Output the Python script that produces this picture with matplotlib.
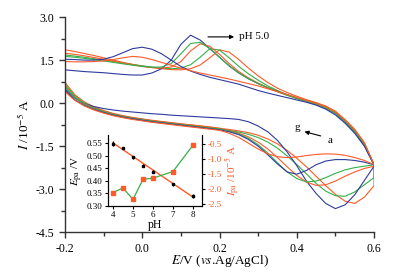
import matplotlib
matplotlib.use("Agg")
import matplotlib.pyplot as plt

plt.rcParams['font.family'] = 'serif'
plt.rcParams['font.serif'] = ['Liberation Serif', 'DejaVu Serif']
plt.rcParams['mathtext.fontset'] = 'stix'
plt.rcParams['axes.unicode_minus'] = False

# =============================================================================
# Daten
# =============================================================================

potential = [-0.2, -0.175, -0.15, -0.125, -0.1, -0.075, -0.05, -0.025, 0.0,
             0.025, 0.05, 0.075, 0.1, 0.125, 0.15, 0.175, 0.2, 0.225, 0.25,
             0.275, 0.3, 0.325, 0.35, 0.375, 0.4, 0.425, 0.45, 0.475, 0.5,
             0.525, 0.55, 0.575, 0.6]

# Hinlauf (untere Zweige), Strom in 10^-5 A
lower_a = [0.72, 0.30, 0.04, -0.13, -0.26, -0.36, -0.44, -0.50, -0.55, -0.60, -0.64,
           -0.68, -0.72, -0.76, -0.79, -0.83, -0.88, -0.92, -0.97, -1.03, -1.12, -1.25,
           -1.42, -1.65, -1.92, -2.22, -2.55, -2.88, -3.18, -3.42, -3.50, -3.28, -2.88]
lower_b = [0.66, 0.26, 0.01, -0.15, -0.28, -0.38, -0.46, -0.52, -0.57, -0.62, -0.66,
           -0.70, -0.74, -0.78, -0.82, -0.86, -0.90, -0.95, -1.01, -1.09, -1.20, -1.36,
           -1.57, -1.84, -2.14, -2.47, -2.80, -3.07, -3.23, -3.25, -3.10, -2.85, -2.60]
lower_c = [0.50, 0.18, -0.02, -0.12, -0.19, -0.24, -0.28, -0.31, -0.34, -0.37, -0.39,
           -0.42, -0.44, -0.46, -0.48, -0.50, -0.52, -0.54, -0.57, -0.65, -0.80, -1.00,
           -1.30, -1.70, -2.18, -2.72, -3.15, -3.50, -3.68, -3.55, -3.20, -2.70, -2.20]
lower_d = [0.60, 0.22, -0.02, -0.17, -0.29, -0.38, -0.45, -0.51, -0.56, -0.61, -0.65,
           -0.69, -0.73, -0.76, -0.80, -0.84, -0.88, -0.95, -1.05, -1.18, -1.36, -1.60,
           -1.90, -2.22, -2.52, -2.75, -2.87, -2.85, -2.72, -2.55, -2.40, -2.28, -2.20]
lower_e = [0.56, 0.20, -0.04, -0.19, -0.31, -0.40, -0.47, -0.53, -0.58, -0.63, -0.67,
           -0.71, -0.75, -0.79, -0.83, -0.87, -0.90, -0.97, -1.08, -1.23, -1.45, -1.74,
           -2.08, -2.40, -2.63, -2.75, -2.72, -2.60, -2.45, -2.33, -2.25, -2.20, -2.15]
lower_f = [0.45, 0.12, -0.08, -0.22, -0.33, -0.42, -0.49, -0.55, -0.60, -0.65, -0.69,
           -0.73, -0.77, -0.81, -0.85, -0.89, -0.93, -1.00, -1.10, -1.27, -1.50, -1.80,
           -2.12, -2.40, -2.48, -2.35, -2.15, -2.02, -1.97, -1.97, -2.00, -2.06, -2.15]
lower_g = [0.40, 0.10, -0.10, -0.24, -0.35, -0.44, -0.51, -0.57, -0.62, -0.67, -0.71,
           -0.75, -0.79, -0.83, -0.87, -0.91, -0.95, -1.05, -1.20, -1.40, -1.60, -1.77,
           -1.87, -1.90, -1.88, -1.83, -1.79, -1.77, -1.78, -1.82, -1.90, -2.00, -2.15]

# Ruecklauf (obere Zweige), gleiche Potentialreihenfolge
upper_a = [1.86, 1.80, 1.73, 1.66, 1.58, 1.50, 1.42, 1.35, 1.29, 1.24, 1.20, 1.17,
           1.16, 1.20, 1.33, 1.58, 1.86, 1.78, 1.52, 1.22, 0.95, 0.72, 0.52, 0.37,
           0.24, 0.12, 0.02, -0.10, -0.28, -0.58, -0.92, -1.38, -2.15]
upper_b = [1.68, 1.64, 1.60, 1.55, 1.50, 1.45, 1.40, 1.35, 1.30, 1.26, 1.22, 1.20,
           1.22, 1.34, 1.60, 1.90, 1.85, 1.58, 1.28, 1.02, 0.80, 0.60, 0.44, 0.30,
           0.18, 0.08, -0.02, -0.14, -0.32, -0.62, -0.97, -1.42, -2.15]
upper_c = [1.16, 1.13, 1.10, 1.08, 1.06, 1.03, 1.00, 0.98, 0.98, 1.05, 1.20, 1.50,
           2.05, 2.37, 2.20, 1.90, 1.60, 1.30, 1.05, 0.85, 0.68, 0.54, 0.41, 0.29,
           0.17, 0.07, -0.04, -0.17, -0.36, -0.66, -1.02, -1.48, -2.15]
upper_d = [1.74, 1.70, 1.65, 1.59, 1.53, 1.47, 1.40, 1.34, 1.28, 1.24, 1.22, 1.26,
           1.45, 1.82, 2.07, 1.98, 1.70, 1.38, 1.10, 0.88, 0.70, 0.54, 0.40, 0.28,
           0.17, 0.07, -0.03, -0.15, -0.33, -0.62, -0.97, -1.42, -2.15]
upper_e = [1.63, 1.60, 1.56, 1.52, 1.47, 1.42, 1.37, 1.32, 1.28, 1.25, 1.26, 1.38,
           1.72, 2.08, 2.12, 1.90, 1.60, 1.30, 1.05, 0.85, 0.68, 0.53, 0.40, 0.27,
           0.16, 0.06, -0.04, -0.17, -0.36, -0.65, -1.00, -1.45, -2.15]
upper_f = [1.53, 1.52, 1.50, 1.50, 1.53, 1.62, 1.76, 1.90, 1.95, 1.88, 1.72, 1.50,
           1.28, 1.12, 1.00, 0.90, 0.82, 0.74, 0.66, 0.55, 0.44, 0.35, 0.27, 0.19,
           0.11, 0.03, -0.07, -0.21, -0.41, -0.70, -1.05, -1.50, -2.15]
upper_g = [1.45, 1.44, 1.44, 1.45, 1.47, 1.52, 1.58, 1.63, 1.60, 1.52, 1.42, 1.32,
           1.22, 1.13, 1.05, 0.98, 0.91, 0.84, 0.76, 0.68, 0.60, 0.50, 0.40, 0.30,
           0.20, 0.10, 0.00, -0.12, -0.30, -0.58, -0.92, -1.38, -2.15]

curve_colors = ['#ff5a28', '#34b04a', '#2e3a9e', '#ff5a28', '#34b04a', '#2e3a9e', '#ff5a28']

# Inset: Peakpotential und Peakstrom gegen pH
ph = [4, 4.5, 5, 5.5, 6, 7, 8]
epa = [0.548, 0.531, 0.495, 0.461, 0.437, 0.387, 0.341]
epa_err = [0.010, 0.005, 0.006, 0.007, 0.007, 0.006, 0.008]
ipa = [-2.11, -1.96, -2.34, -1.67, -1.63, -1.41, -0.53]
fit_ph = [4, 8]
fit_epa = [0.552, 0.335]

RED = '#ff5a28'
GREEN = '#34b04a'

# =============================================================================
# Hauptplot
# =============================================================================

fig = plt.figure(figsize=(4.0, 2.76), dpi=100)
ax = fig.add_axes([0.1625, 0.159, 0.7725, 0.779])

lowers = [lower_a, lower_b, lower_c, lower_d, lower_e, lower_f, lower_g]
uppers = [upper_a, upper_b, upper_c, upper_d, upper_e, upper_f, upper_g]
for low, up, col in zip(lowers, uppers, curve_colors):
    ax.plot(potential + potential[::-1], low + up[::-1], color=col, lw=0.8)

ax.set_xlim(-0.2, 0.6)
ax.set_ylim(-4.5, 3.0)
ax.spines['top'].set_visible(False)
ax.spines['right'].set_visible(False)
for s in ['left', 'bottom']:
    ax.spines[s].set_linewidth(1.0)
    ax.spines[s].set_color('#333333')

ax.set_xticks([-0.2, 0.0, 0.2, 0.4, 0.6])
ax.set_xticklabels(['-0.2', '0.0', '0.2', '0.4', '0.6'])
ax.set_xticks([-0.1, 0.1, 0.3, 0.5], minor=True)
ax.set_yticks([-4.5, -3.0, -1.5, 0.0, 1.5, 3.0])
ax.set_yticklabels(['-4.5', '-3.0', '-1.5', '0.0', '1.5', '3.0'])
ax.set_yticks([-3.75, -2.25, -0.75, 0.75, 2.25], minor=True)
ax.tick_params(which='major', length=4, width=1.0, labelsize=8.5, color='#333333')
ax.tick_params(which='minor', length=3, width=1.0, color='#333333')

ax.set_xlabel(r'$E$/V ($vs$.Ag/AgCl)', fontsize=9.5, labelpad=-1)
ax.set_ylabel(r'$I$ /10$^{-5}$ A', fontsize=9.5, labelpad=3)

# Beschriftungen
ax.annotate('', xy=(0.245, 2.31), xytext=(0.163, 2.31),
            arrowprops=dict(arrowstyle='-|>', color='black', lw=0.8,
                            mutation_scale=6))
ax.text(0.25, 2.31, 'pH 5.0', fontsize=8, va='center', ha='left')
ax.annotate('', xy=(0.413, -0.97), xytext=(0.469, -1.17),
            arrowprops=dict(arrowstyle='-|>', color='black', lw=0.8,
                            mutation_scale=6))
ax.text(0.401, -0.84, 'g', fontsize=8, ha='center', va='center')
ax.text(0.487, -1.32, 'a', fontsize=8, ha='center', va='center')

# =============================================================================
# Inset
# =============================================================================

ins = fig.add_axes([0.27, 0.254, 0.235, 0.257])
ins.set_facecolor('none')
ins.plot(fit_ph, fit_epa, color=RED, lw=1.0, zorder=2)
ins.errorbar(ph, epa, yerr=epa_err, fmt='s', color='black', ms=1.6,
             elinewidth=0.9, capsize=0, zorder=3)
ins.set_xlim(3.75, 8.45)
ins.set_ylim(0.30, 0.584)
ins.set_xticks([4, 5, 6, 7, 8])
ins.set_yticks([0.30, 0.35, 0.40, 0.45, 0.50, 0.55])
ins.set_yticklabels(['0.30', '0.35', '0.40', '0.45', '0.50', '0.55'])
ins.spines['top'].set_visible(False)
ins.tick_params(labelsize=6.5, length=2.5, width=0.8, pad=1.5)
ins.set_xlabel('pH', fontsize=8.5, labelpad=0)
ins.set_ylabel(r'$E_{\rm pa}$ /V', fontsize=8, labelpad=1)

ins2 = ins.twinx()
ins2.plot(ph, ipa, color=GREEN, lw=0.9, marker='s', ms=2.4,
          mfc=RED, mec=RED, zorder=3)
ins2.set_ylim(-2.557, -0.19)
ins2.set_yticks([-2.5, -2.0, -1.5, -1.0, -0.5])
ins2.set_yticklabels(['-2.5', '-2.0', '-1.5', '-1.0', '-0.5'])
ins2.spines['top'].set_visible(False)
ins2.tick_params(labelsize=6.5, length=2.5, width=0.8, pad=1.5,
                 labelcolor=RED)
ins2.set_ylabel(r'$I_{\rm pa}$ /10$^{-5}$ A', fontsize=8, color=RED, labelpad=1)

fig.savefig('out.png', dpi=100)
